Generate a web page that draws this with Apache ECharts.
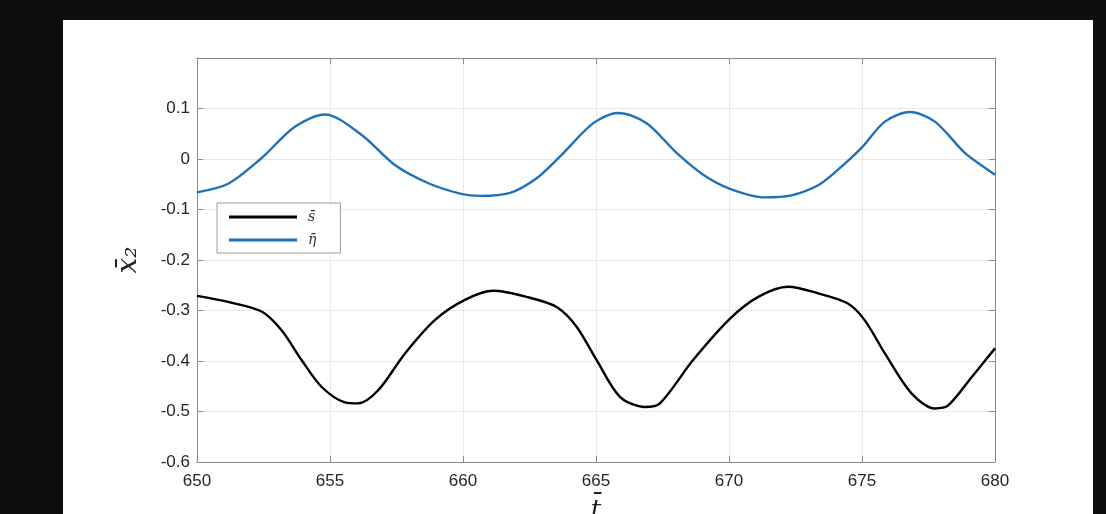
<!DOCTYPE html>
<html>
<head>
<meta charset="utf-8">
<script src="https://cdn.jsdelivr.net/npm/echarts@6/dist/echarts.min.js"></script>
<style>
html,body{margin:0;padding:0;background:#0e0e0e;}
#c{width:1106px;height:514px;}
</style>
</head>
<body>
<div id="c"></div>
<script>
// x-axis ticks
const xTicks = [650, 655, 660, 665, 670, 675, 680];
const yTicks = [-0.6, -0.5, -0.4, -0.3, -0.2, -0.1, 0, 0.1];

// series s̄ (black)
const sT = [650, 651.17, 652.43, 653.18, 653.93, 654.68, 655.56, 656.06, 656.81, 657.82, 658.94, 660.07,
            661.14, 662.39, 663.52, 664.27, 665.02, 665.9, 666.84, 667.4, 668.65, 670.04,
            671.1, 672.22, 673.35, 674.47, 675.1, 675.86, 676.86, 677.74, 678.24, 679.12, 680];
const sVals = [-0.271, -0.283, -0.302, -0.339, -0.398, -0.451, -0.482, -0.484, -0.458, -0.385, -0.319, -0.279,
               -0.261, -0.273, -0.293, -0.332, -0.398, -0.471, -0.491, -0.484, -0.398, -0.316,
               -0.273, -0.253, -0.266, -0.286, -0.319, -0.385, -0.464, -0.494, -0.488, -0.432, -0.375];

// series η̄ (blue)
const etaT = [650, 651.17, 652.43, 653.68, 654.81, 656.18, 657.44, 658.7, 659.93,
              660.64, 661.77, 662.77, 663.65, 664.9, 665.83, 666.9, 668.03, 669.03, 670.04,
              671.35, 672.35, 673.35, 674.1, 674.98, 675.86, 676.8, 677.74, 678.87, 680];
const etaVals = [-0.066, -0.049, 0.002, 0.064, 0.088, 0.048, -0.012, -0.048, -0.069,
                 -0.073, -0.067, -0.038, 0.005, 0.071, 0.091, 0.071, 0.012, -0.031, -0.059,
                 -0.076, -0.072, -0.052, -0.021, 0.022, 0.074, 0.093, 0.074, 0.012, -0.031];

const sData = sT.map((t, i) => [t, sVals[i]]);
const etaData = etaT.map((t, i) => [t, etaVals[i]]);

const chart = echarts.init(document.getElementById('c'));
const axisColor = '#8a8a8a';
const labelFont = {color: '#262626', fontSize: 17, fontFamily: 'Liberation Sans, Arial, sans-serif'};

chart.setOption({
  backgroundColor: '#0e0e0e',
  animation: false,
  graphic: [{
    type: 'rect', left: 63, top: 20, z: -10,
    shape: {width: 1030, height: 494},
    style: {fill: '#ffffff'}
  }],
  grid: {left: 197, top: 58, width: 798, height: 404, containLabel: false, outerBoundsMode: 'none'},
  legend: {
    orient: 'vertical', left: 217, top: 203,
    backgroundColor: '#ffffff', borderColor: '#9a9a9a', borderWidth: 1,
    padding: [7, 24, 6, 12], itemGap: 9,
    itemWidth: 68, itemHeight: 3, icon: 'rect',
    textStyle: {fontFamily: 'DejaVu Serif, serif', fontStyle: 'italic', fontSize: 14, color: '#333', padding: [0, 0, 0, 6]},
    data: ['s̄', 'η̄']
  },
  xAxis: [{
    type: 'value', min: 650, max: 680, interval: 5,
    name: 't̄', nameLocation: 'middle', nameGap: 36,
    nameTextStyle: {fontFamily: 'DejaVu Serif, serif', fontStyle: 'italic', fontSize: 26, color: '#222'},
    axisLine: {show: true, onZero: false, lineStyle: {color: axisColor, width: 1}},
    axisTick: {show: true, inside: true, length: 6, lineStyle: {color: axisColor}},
    axisLabel: Object.assign({margin: 11, formatter: v => xTicks.includes(v) ? String(v) : ''}, labelFont),
    splitLine: {show: true, lineStyle: {color: '#e8e8e8', width: 1}}
  }, {
    type: 'value', min: 650, max: 680, interval: 5, position: 'top',
    axisLine: {show: true, onZero: false, lineStyle: {color: axisColor, width: 1}},
    axisTick: {show: true, inside: true, length: 6, lineStyle: {color: axisColor}},
    axisLabel: {show: false}, splitLine: {show: false}
  }],
  yAxis: [{
    type: 'value', min: -0.6, max: 0.2, interval: 0.1,
    name: 'x̄₂', nameLocation: 'middle', nameGap: 54, nameRotate: 90,
    nameTextStyle: {fontFamily: 'DejaVu Serif, serif', fontStyle: 'italic', fontSize: 28, color: '#222'},
    axisLine: {show: true, onZero: false, lineStyle: {color: axisColor, width: 1}},
    axisTick: {show: true, inside: true, length: 6, lineStyle: {color: axisColor}},
    axisLabel: Object.assign({margin: 7, formatter: v => {
      const r = Math.round(v * 10) / 10;
      if (r > 0.15) return '';
      return r === 0 ? '0' : String(r);
    }}, labelFont),
    splitLine: {show: true, lineStyle: {color: '#e8e8e8', width: 1}}
  }, {
    type: 'value', min: -0.6, max: 0.2, interval: 0.1, position: 'right',
    axisLine: {show: true, onZero: false, lineStyle: {color: axisColor, width: 1}},
    axisTick: {show: true, inside: true, length: 6, lineStyle: {color: axisColor}},
    axisLabel: {show: false}, splitLine: {show: false}
  }],
  series: [{
    name: 's̄', type: 'line', data: sData, smooth: 0.3, showSymbol: false,
    lineStyle: {color: '#000000', width: 2.4}, itemStyle: {color: '#000000'}
  }, {
    name: 'η̄', type: 'line', data: etaData, smooth: 0.3, showSymbol: false,
    lineStyle: {color: '#1f72b5', width: 2.4}, itemStyle: {color: '#1f72b5'}
  }]
});
</script>
</body>
</html>
